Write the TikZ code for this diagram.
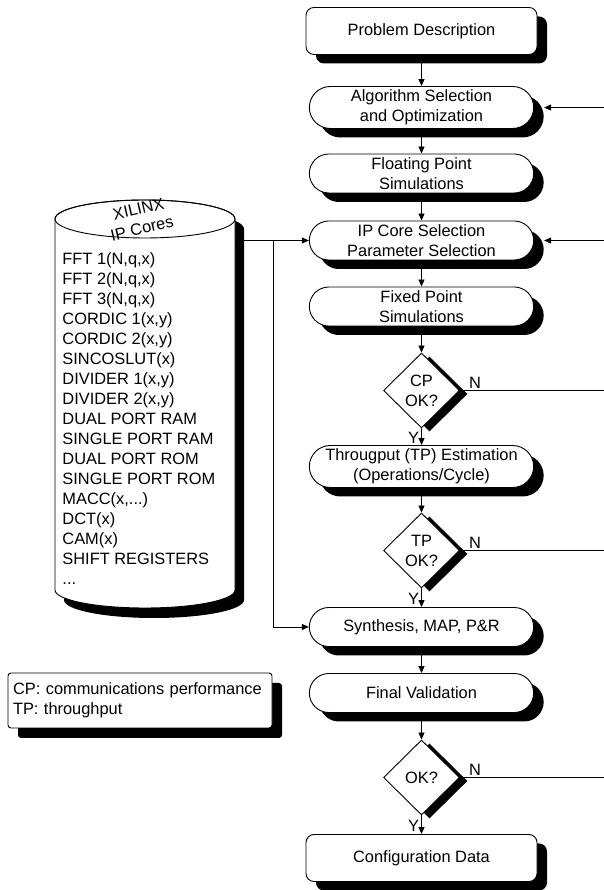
\documentclass[tikz,border=0pt]{standalone}
\usepackage{fontspec}
\setmainfont{Liberation Sans}
\usetikzlibrary{shapes.geometric, shapes.misc, shadows, arrows.meta}

\tikzset{
    blkshadow/.style={drop shadow={shadow xshift=10pt, shadow yshift=-9pt, fill=black, opacity=1}},
    termbox/.style={draw, fill=white, rectangle, rounded corners=8pt, minimum width=231pt, minimum height=47pt, align=center, blkshadow},
    procbox/.style={draw, fill=white, rounded rectangle, minimum width=231pt, minimum height=39pt, align=center, blkshadow},
    decision/.style={draw, fill=white, diamond, aspect=1, inner sep=0pt, minimum width=76pt, minimum height=75pt, align=center,
        drop shadow={shadow xshift=8pt, shadow yshift=-3.5pt, fill=black, opacity=1}},
    lbl/.style={inner sep=2pt}
}

\newcommand{\coreoutline}{(55,671) -- (55,300) arc[start angle=180, end angle=360, x radius=90, y radius=18]
    -- (235,671) arc[start angle=0, end angle=180, x radius=90, y radius=19] -- cycle}

\begin{document}
\begin{tikzpicture}[x=1pt, y=1pt, >={Triangle[length=7pt, width=6pt]}, line width=0.9pt,
    font=\fontsize{16.4}{20}\selectfont]
    % 1. Page frame
    \useasboundingbox (0,0) rectangle (604,890);

    % 2. Main flow column
    \node[termbox] (prob)   at (421.5,859)   {Problem Description};
    \node[procbox] (algo)   at (421.5,782.5) {Algorithm Selection\\and Optimization};
    \node[procbox] (float)  at (421.5,716.5) {Floating Point\\Simulations};
    \node[procbox] (ip)     at (421.5,649.5) {IP Core Selection\\Parameter Selection};
    \node[procbox] (fixed)  at (421.5,583.5) {Fixed Point\\Simulations};
    \node[decision] (cp)    at (421.5,499.5) {CP\\OK?};
    \node[procbox] (tput)   at (421.5,423.5) {Througput (TP) Estimation\\(Operations/Cycle)};
    \node[decision] (tp)    at (421.5,339.5) {TP\\OK?};
    \node[procbox] (synth)  at (421.5,263)   {Synthesis, MAP, P\&R};
    \node[procbox] (final)  at (421.5,197)   {Final Validation};
    \node[decision] (ok)    at (421.5,112.5) {OK?};
    \node[termbox] (config) at (421.5,32)    {Configuration Data};

    % 3. Arrows down the column
    \draw[->] (prob) -- (algo);
    \draw[->] (algo) -- (float);
    \draw[->] (float) -- (ip);
    \draw[->] (ip) -- (fixed);
    \draw[->] (fixed) -- (cp);
    \draw[->] (cp) -- node[lbl, left, pos=0.55] (cpY) {Y} (tput);
    \draw[->] (tput) -- (tp);
    \draw[->] (tp) -- node[lbl, left, pos=0.55] (tpY) {Y} (synth);
    \draw[->] (synth) -- (final);
    \draw[->] (final) -- (ok);
    \draw[->] (ok) -- node[lbl, left, pos=0.55] (okY) {Y} (config);

    % 4. Feedback lines on the right edge
    \coordinate (rAlgo) at (604,782.5);
    \coordinate (rIP)   at (604,649.5);
    \coordinate (rCP)   at (604,499.5);
    \coordinate (rTP)   at (604,339.5);
    \coordinate (rOK)   at (604,112.5);
    \draw[->] (rAlgo) -- ([xshift=10pt]algo.east);
    \draw[->] (rIP) -- ([xshift=10pt]ip.east);
    \draw (cp.east) -- node[lbl, above, pos=0.105] (cpN) {N} (rCP);
    \draw (tp.east) -- node[lbl, above, pos=0.105] (tpN) {N} (rTP);
    \draw (ok.east) -- node[lbl, above, pos=0.105] (okN) {N} (rOK);

    % 5. IP core library (cylinder)
    \fill[black, xshift=9pt, yshift=-10pt] \coreoutline;
    \draw[fill=white] \coreoutline;
    \draw (145,671) ellipse[x radius=90, y radius=19];
    \node[rotate=13, inner sep=0pt] (xlnx) at (138.5,681) {XILINX};
    \node[rotate=13, inner sep=0pt] (ipc)  at (142,661.5) {IP Cores};
    \node[anchor=west, align=left, inner sep=2pt] (corelist) at (60,471)
        {FFT 1(N,q,x)\\FFT 2(N,q,x)\\FFT 3(N,q,x)\\CORDIC 1(x,y)\\CORDIC 2(x,y)\\SINCOSLUT(x)\\
         DIVIDER 1(x,y)\\DIVIDER 2(x,y)\\DUAL PORT RAM\\SINGLE PORT RAM\\DUAL PORT ROM\\
         SINGLE PORT ROM\\MACC(x,...)\\DCT(x)\\CAM(x)\\SHIFT REGISTERS\\...};

    % 6. Library links into the flow
    \coordinate (cylE) at (235,649.5);
    \coordinate (bus)  at (273,649.5);
    \draw[->] (cylE) -- (ip.west);
    \draw[->] (bus) |- (synth.west);

    % 7. Legend
    \node[draw, fill=white, rounded corners=3pt, align=left, text width=254pt, inner xsep=5pt,
        minimum height=55pt, drop shadow={shadow xshift=10pt, shadow yshift=-10pt, fill=black, opacity=1}]
        (legend) at (140,189.5) {CP: communications performance\\TP: throughput};
\end{tikzpicture}
\end{document}
